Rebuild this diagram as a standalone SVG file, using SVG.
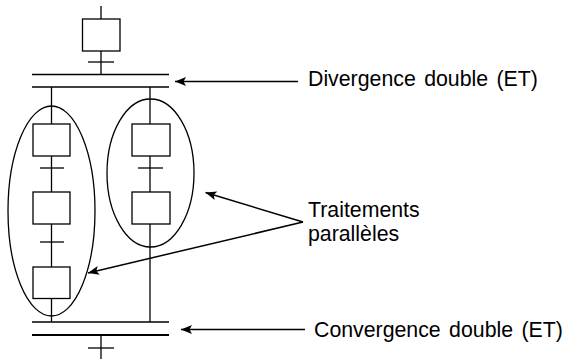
<svg xmlns="http://www.w3.org/2000/svg" width="564" height="359" viewBox="0 0 564 359">
<style>
.s{stroke:#000;stroke-width:1.3;fill:none}
.b{stroke:#000;stroke-width:1.3;fill:#fff}
.t{font-family:"Liberation Sans",Arial,sans-serif;font-size:21.3px;fill:#000}
.w{word-spacing:2.5px}
.a{stroke:#000;stroke-width:1.5;fill:none;marker-end:url(#ah)}
</style>
<defs>
<marker id="ah" markerUnits="userSpaceOnUse" markerWidth="12" markerHeight="10" refX="11" refY="4.5" orient="auto">
<path d="M0,0 L11,4.5 L0,9 L2.5,4.5 Z" fill="#000"/>
</marker>
</defs>
<g id="connectors">
<line class="s" x1="101" y1="6" x2="101" y2="19"/>
<line class="s" x1="101" y1="51" x2="101" y2="74.5"/>
<line class="s" x1="88" y1="62" x2="114" y2="62"/>
<line class="s" x1="32" y1="74.5" x2="169" y2="74.5"/>
<line class="s" x1="32" y1="87" x2="169" y2="87"/>
<line class="s" x1="51.5" y1="87" x2="51.5" y2="322"/>
<line class="s" x1="150" y1="87" x2="150" y2="322"/>
<line class="s" x1="40" y1="168" x2="64" y2="168"/>
<line class="s" x1="40" y1="242" x2="64" y2="242"/>
<line class="s" x1="138" y1="168" x2="163" y2="168"/>
<line class="s" x1="32" y1="322" x2="169" y2="322"/>
<line class="s" style="stroke-width:2" x1="32" y1="335" x2="169" y2="335"/>
<line class="s" x1="101" y1="335" x2="101" y2="359"/>
<line class="s" x1="88" y1="348" x2="114" y2="348"/>
<line class="a" x1="298" y1="81.5" x2="175" y2="81.5"/>
<line class="a" x1="305" y1="329.5" x2="181" y2="329.5"/>
<line class="a" x1="303" y1="222" x2="205.5" y2="192.5"/>
<line class="a" x1="303" y1="222" x2="88" y2="273"/>
</g>
<g id="step0"><rect class="b" x="82.5" y="19" width="37.5" height="32"/></g>
<g id="stepL1"><rect class="b" x="33" y="124" width="37" height="32"/></g>
<g id="stepL2"><rect class="b" x="33" y="192" width="37" height="32"/></g>
<g id="stepL3"><rect class="b" x="33" y="267" width="37" height="31.5"/></g>
<g id="stepR1"><rect class="b" x="132" y="124" width="38" height="32"/></g>
<g id="stepR2"><rect class="b" x="132" y="192" width="38" height="32"/></g>
<g id="groupL"><ellipse class="s" cx="51.5" cy="211" rx="43.5" ry="105"/></g>
<g id="groupR"><ellipse class="s" cx="150.5" cy="173" rx="43.5" ry="74"/></g>
<g id="labelDiv"><text class="t w" x="308" y="86">Divergence double (ET)</text></g>
<g id="labelTrait"><text class="t" x="308" y="216.5">Traitements</text><text class="t" x="308" y="241">parallèles</text></g>
<g id="labelConv"><text class="t w" x="314" y="337">Convergence double (ET)</text></g>
</svg>
